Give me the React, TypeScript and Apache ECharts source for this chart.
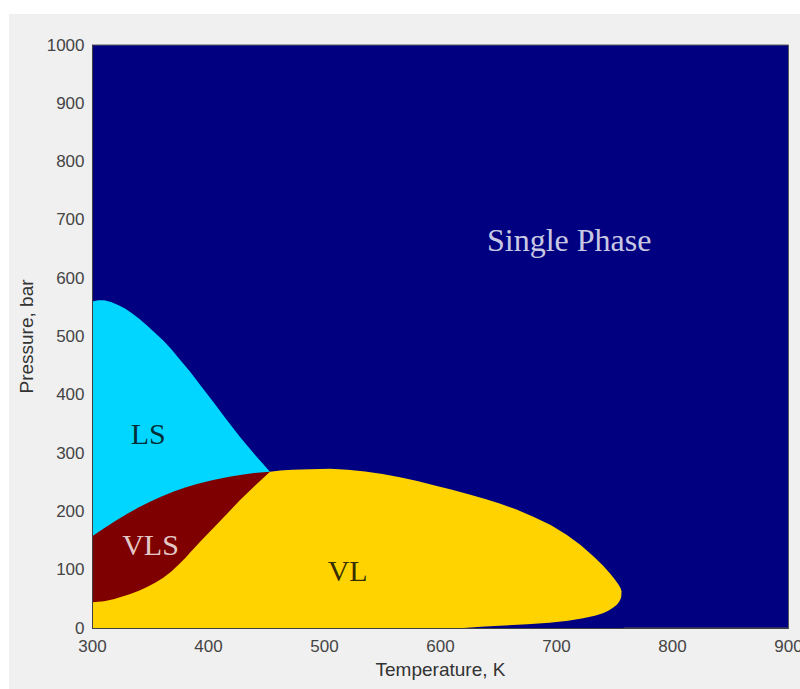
import React, { useEffect, useRef } from "react";
import * as echarts from "echarts";

// Phase boundaries: [temperature K, pressure bar]
const lsUpper: [number, number][] = [
  [300, 560], [305, 562], [310, 562], [316, 559], [322, 554], [328, 548], [334, 540],
  [340, 531], [347, 519], [354, 506], [361, 493], [368, 478], [376, 459], [384, 440],
  [394, 414], [404, 388], [415, 359], [427, 328], [440, 297], [453, 268],
];

const vlsUpper: [number, number][] = [
  [300, 158], [310, 171], [320, 184], [330, 196], [340, 207], [350, 217], [360, 226],
  [370, 234], [380, 241], [390, 247], [404, 254], [418, 259.5], [430, 263.5],
  [442, 266.5], [453, 268],
];

const vlsLower: [number, number][] = [
  [300, 44], [310, 46], [318, 49.5], [325, 53.5], [332, 58], [340, 64], [347, 70.5],
  [354, 77.5], [361, 86], [368, 97], [375, 110], [380, 120], [384, 129], [389, 140],
  [394, 150.5], [404, 171], [416, 196], [427, 219], [440, 244], [453, 268],
];

const vlUpper: [number, number][] = [
  [462, 270], [472, 271.5], [487, 272.5], [505, 273], [520, 271.5], [535, 268.5],
  [550, 264], [565, 258.5], [580, 252], [596, 244], [610, 237], [625, 229], [640, 220.5],
  [651, 213.5], [665, 203.5], [680, 191], [695, 176.5], [709, 159.5], [721, 142],
  [732, 122.5], [740, 107], [746, 94], [750, 84], [753.3, 75], [755.3, 68], [756.2, 62],
];

const vlLower: [number, number][] = [
  [620, 0], [635, 2], [651, 4], [675, 6.5], [694, 9], [710, 12.5], [723, 16.6],
  [733, 21], [740, 25.5], [745, 30], [749, 35], [752, 40], [754, 45], [755.3, 50],
  [756, 55], [756.2, 62], [758, 62],
];

const regionLabels = ["Single Phase", "LS", "VLS", "VL"];
const labelT = [711, 348, 350, 520];
const labelP = [665, 333, 144, 99];
const labelColors = ["#ffffff", "#000000", "#ffffff", "#000000"];
const labelSizes = [32, 30, 30, 30];

const xTickStep = 100;
const yTickStep = 100;

const SANS = "'Liberation Sans', Arial, Helvetica, sans-serif";
const SERIF = "'Liberation Serif', 'Times New Roman', serif";

const areaSeries = (name: string, data: [number, number][], color: string, z: number) => ({
  type: "line",
  name,
  data,
  symbol: "none",
  showSymbol: false,
  smooth: false,
  lineStyle: { width: 0, color },
  areaStyle: { color, opacity: 1, origin: "start" },
  silent: true,
  z,
});

export default function App() {
  const ref = useRef<HTMLDivElement>(null);

  useEffect(() => {
    if (!ref.current) return;
    const chart = echarts.init(ref.current, null, { renderer: "svg" });
    const yellowData = [...vlsLower, ...vlUpper];
    chart.setOption({
      animation: false,
      backgroundColor: "transparent",
      grid: {
        left: 92.5,
        right: 11.5,
        top: 45,
        bottom: 61,
        show: true,
        backgroundColor: "#000080",
        borderColor: "#5a5a5a",
        borderWidth: 1,
        containLabel: false,
        outerBoundsMode: "none",
      },
      xAxis: {
        type: "value",
        min: 300,
        max: 900,
        interval: xTickStep,
        name: "Temperature, K",
        nameLocation: "middle",
        nameGap: 32,
        nameTextStyle: { fontFamily: SANS, fontSize: 19, color: "#333333" },
        axisLine: { show: true, onZero: false, lineStyle: { color: "#404040", width: 1 } },
        axisTick: { show: false },
        splitLine: { show: false },
        axisLabel: {
          fontFamily: SANS,
          fontSize: 17,
          color: "#444444",
          margin: 10,
          formatter: (v: number) => String(v),
        },
        z: 10,
      },
      yAxis: {
        type: "value",
        min: 0,
        max: 1000,
        interval: yTickStep,
        name: "Pressure, bar",
        nameLocation: "middle",
        nameRotate: 90,
        nameGap: 54,
        nameTextStyle: { fontFamily: SANS, fontSize: 19, color: "#333333" },
        axisLine: { show: true, onZero: false, lineStyle: { color: "#404040", width: 1 } },
        axisTick: { show: false },
        splitLine: { show: false },
        axisLabel: {
          fontFamily: SANS,
          fontSize: 17,
          color: "#444444",
          margin: 8,
          formatter: (v: number) => String(v),
        },
        z: 10,
      },
      series: [
        areaSeries("LS", lsUpper, "#00d6ff", 2),
        areaSeries("VLS", vlsUpper, "#7f0000", 3),
        areaSeries("VL", yellowData, "#ffd300", 4),
        areaSeries("Single Phase (below VL)", vlLower, "#000080", 5),
        {
          type: "scatter",
          name: "labels",
          silent: true,
          z: 8,
          symbolSize: 1,
          itemStyle: { color: "rgba(0,0,0,0)" },
          data: regionLabels.map((n, i) => ({
            name: n,
            value: [labelT[i], labelP[i]],
            label: { color: labelColors[i], fontSize: labelSizes[i] },
          })),
          label: {
            show: true,
            position: "inside",
            formatter: "{b}",
            fontFamily: SERIF,
            fontSize: 30,
            textBorderWidth: 0,
            textBorderColor: "transparent",
            textShadowBlur: 0,
          },
        },
      ],
    });
    return () => chart.dispose();
  }, []);

  return (
    <div
      style={{
        position: "fixed",
        left: 0,
        top: 0,
        width: 800,
        height: 689,
        background: "#ffffff",
        overflow: "hidden",
      }}
    >
      <div
        style={{
          position: "absolute",
          left: 9,
          top: 14,
          width: 791,
          height: 675,
          background: "#f0f0f0",
        }}
      />
      <div ref={ref} style={{ position: "absolute", left: 0, top: 0, width: 800, height: 689 }} />
    </div>
  );
}
